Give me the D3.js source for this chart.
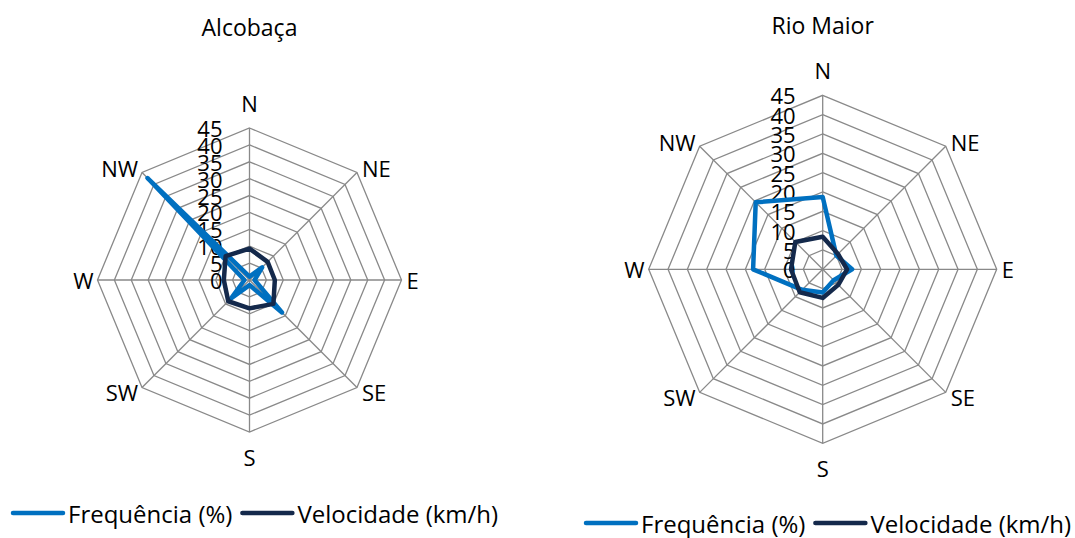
<!DOCTYPE html>
<html>
<head>
<meta charset="utf-8">
<script src="https://cdn.jsdelivr.net/npm/d3@7/dist/d3.min.js"></script>
<style>
  html, body { margin: 0; padding: 0; background: #ffffff; }
  svg { display: block; font-family: "Open Sans", Lato, sans-serif; }
</style>
</head>
<body>
<svg id="chart" width="1075" height="538"></svg>
<script>
// Wind directions (clockwise from north) and radial axis ticks
const directions = ["N", "NE", "E", "SE", "S", "SW", "W", "NW"];
const tickValues = [0, 5, 10, 15, 20, 25, 30, 35, 40, 45];
const seriesNames = ["Frequência (%)", "Velocidade (km/h)"];
const stationNames = ["Alcobaça", "Rio Maior"];

// Alcobaça
const alcobacaFreq = [1, 5.3, 1.5, 13.6, 1.5, 7.6, 1.5, 42.7];
const alcobacaVel  = [9.3, 7.6, 7.5, 10.0, 8.4, 8.9, 7.6, 10.0];

// Rio Maior
const rioMaiorFreq = [18.7, 5.0, 7.6, 4.0, 6.0, 7.5, 18.0, 24.5];
const rioMaiorVel  = [8.4, 5.6, 6.3, 5.7, 7.4, 8.4, 8.2, 10.0];

const colors = ["#0070c0", "#14294b"];
const gridColor = "#898989";

const svg = d3.select("#chart");

const panels = [
  { title: stationNames[0], freq: alcobacaFreq, vel: alcobacaVel,
    cx: 249.5, cy: 280, r: 152, titleY: 27, legendY: 513, legendX: 11 },
  { title: stationNames[1], freq: rioMaiorFreq, vel: rioMaiorVel,
    cx: 822.7, cy: 269.3, r: 174, titleY: 25, legendY: 523, legendX: 584 }
];

function drawRadar(p) {
  const g = svg.append("g").attr("transform", `translate(${p.cx},${p.cy})`);

  const rMax = d3.max(tickValues);
  const rScale = d3.scaleLinear().domain([0, rMax]).range([0, p.r]);
  const angle = d3.scaleLinear().domain([0, directions.length]).range([0, 2 * Math.PI]);

  const ringLine = d3.lineRadial()
    .angle((d, i) => angle(i))
    .radius(d => rScale(d))
    .curve(d3.curveLinearClosed);

  // Concentric octagonal grid
  g.append("g").selectAll("path")
    .data(tickValues.filter(t => t > 0))
    .join("path")
    .attr("d", t => ringLine(directions.map(() => t)))
    .attr("fill", "none")
    .attr("stroke", gridColor)
    .attr("stroke-width", 1.3);

  // Spokes
  g.append("g").selectAll("line")
    .data(directions)
    .join("line")
    .attr("x1", 0).attr("y1", 0)
    .attr("x2", (d, i) => Math.sin(angle(i)) * rScale(rMax))
    .attr("y2", (d, i) => -Math.cos(angle(i)) * rScale(rMax))
    .attr("stroke", gridColor)
    .attr("stroke-width", 1.3);

  // Radial tick labels along the north spoke
  g.append("g").selectAll("text")
    .data(tickValues)
    .join("text")
    .attr("x", -27)
    .attr("y", t => -rScale(t))
    .attr("text-anchor", "end")
    .attr("dominant-baseline", "central")
    .attr("font-size", 22)
    .attr("fill", "#000")
    .text(t => t);

  // Direction labels outside each vertex
  g.append("g").selectAll("text")
    .data(directions)
    .join("text")
    .each(function (d, i) {
      const a = angle(i);
      const sx = Math.sin(a), sy = -Math.cos(a);
      const vx = sx * p.r, vy = sy * p.r;
      let anchor = "middle", x = vx, y = vy;
      if (Math.abs(sx) > 0.1) {
        anchor = sx > 0 ? "start" : "end";
        x = vx + (sx > 0 ? 5 : -4);
      }
      if (Math.abs(sy) > 0.9) y = vy + sy * 25;
      else if (Math.abs(sy) > 0.1) y = vy + sy * 6;
      d3.select(this)
        .attr("x", x).attr("y", y)
        .attr("text-anchor", anchor)
        .attr("dominant-baseline", "central");
    })
    .attr("font-size", 22)
    .attr("fill", "#000")
    .text(d => d);

  // Data series
  [p.freq, p.vel].forEach((vals, k) => {
    g.append("path")
      .attr("d", ringLine(vals))
      .attr("fill", "none")
      .attr("stroke", colors[k])
      .attr("stroke-width", 4.5)
      .attr("stroke-linejoin", "round");
  });

  // Title
  svg.append("text")
    .attr("x", p.cx)
    .attr("y", p.titleY)
    .attr("text-anchor", "middle")
    .attr("dominant-baseline", "central")
    .attr("font-size", 23)
    .attr("fill", "#000")
    .text(p.title);

  // Legend
  const lg = svg.append("g").attr("transform", `translate(${p.legendX},${p.legendY})`);
  let x = 0;
  seriesNames.forEach((name, k) => {
    lg.append("line")
      .attr("x1", x + 2).attr("x2", x + 52)
      .attr("y1", 0).attr("y2", 0)
      .attr("stroke", colors[k])
      .attr("stroke-width", 4.5)
      .attr("stroke-linecap", "round");
    const t = lg.append("text")
      .attr("x", x + 57)
      .attr("y", 0)
      .attr("dominant-baseline", "central")
      .attr("font-size", 24)
      .attr("fill", "#000")
      .text(name);
    x += 57 + t.node().getComputedTextLength() + 8;
  });
}

panels.forEach(drawRadar);
</script>
</body>
</html>
